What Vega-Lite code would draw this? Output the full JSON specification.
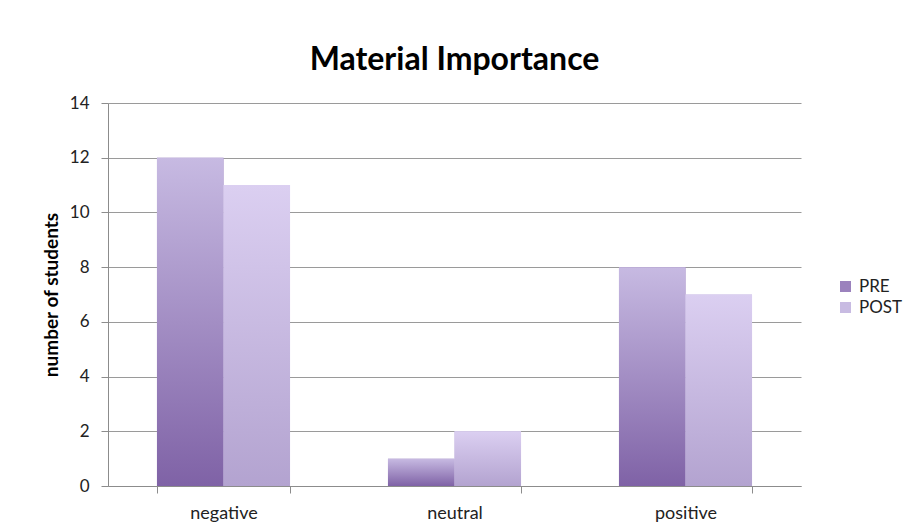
{
  "$schema": "https://vega.github.io/schema/vega-lite/v6.json",
  "autosize": {"type": "none"},
  "padding": {"left": 108, "top": 103, "right": 111, "bottom": 42},
  "width": 693,
  "height": 383,
  "background": "white",
  "title": {
    "text": "Material Importance",
    "font": "Lato",
    "fontSize": 32,
    "fontWeight": "bold",
    "color": "#000000",
    "anchor": "middle",
    "baseline": "alphabetic",
    "offset": -8
  },
  "data": {
    "values": [
      {"category": "negative", "series": "PRE", "value": 12},
      {"category": "negative", "series": "POST", "value": 11},
      {"category": "neutral", "series": "PRE", "value": 1},
      {"category": "neutral", "series": "POST", "value": 2},
      {"category": "positive", "series": "PRE", "value": 8},
      {"category": "positive", "series": "POST", "value": 7}
    ]
  },
  "encoding": {
    "x": {
      "field": "category",
      "type": "nominal",
      "sort": ["negative", "neutral", "positive"],
      "scale": {"paddingInner": 0.424, "paddingOuter": 0.212},
      "axis": {
        "title": null,
        "labelAngle": 0,
        "labelFont": "Lato",
        "labelFontSize": 18,
        "labelColor": "#222222",
        "labelPadding": 11,
        "tickBand": "extent",
        "tickSize": 7,
        "tickColor": "#8c8c8c",
        "domainColor": "#8c8c8c",
        "grid": false
      }
    },
    "xOffset": {
      "field": "series",
      "type": "nominal",
      "sort": ["PRE", "POST"],
      "scale": {"paddingInner": 0, "paddingOuter": 0}
    },
    "y": {
      "field": "value",
      "type": "quantitative",
      "scale": {"domain": [0, 14], "nice": false},
      "axis": {
        "title": "number of students",
        "titleFont": "Lato",
        "titleFontSize": 19,
        "titleFontWeight": "bold",
        "titleColor": "#000000",
        "titlePadding": 8,
        "values": [0, 2, 4, 6, 8, 10, 12, 14],
        "labelFont": "Lato",
        "labelFontSize": 17,
        "labelColor": "#222222",
        "labelPadding": 12,
        "tickSize": 7,
        "tickColor": "#8c8c8c",
        "domainColor": "#8c8c8c",
        "gridColor": "#9a9a9a",
        "gridWidth": 1
      }
    }
  },
  "layer": [
    {
      "mark": {"type": "bar"},
      "encoding": {
        "color": {
          "field": "series",
          "type": "nominal",
          "sort": ["PRE", "POST"],
          "scale": {"domain": ["PRE", "POST"], "range": ["#9b82bd", "#c8bbe2"]},
          "legend": {
            "title": null,
            "orient": "none",
            "legendX": 729,
            "legendY": 175,
            "symbolType": "square",
            "symbolSize": 121,
            "symbolStrokeWidth": 0,
            "labelFont": "Lato",
            "labelFontSize": 17,
            "labelColor": "#222222",
            "rowPadding": 3,
            "labelOffset": 5
          }
        }
      }
    },
    {
      "mark": {"type": "bar"},
      "encoding": {
        "fill": {
          "condition": {
            "test": "datum.series === 'PRE'",
            "value": {"gradient": "linear", "x1": 0, "y1": 1, "x2": 0, "y2": 0, "stops": [{"offset": 0, "color": "#7f62a6"}, {"offset": 1, "color": "#c7bae2"}]}
          },
          "value": {"gradient": "linear", "x1": 0, "y1": 1, "x2": 0, "y2": 0, "stops": [{"offset": 0, "color": "#b3a3d0"}, {"offset": 1, "color": "#dbcff1"}]}
        }
      }
    }
  ],
  "config": {
    "view": {"stroke": null},
    "axis": {"domainWidth": 1, "tickWidth": 1}
  }
}
